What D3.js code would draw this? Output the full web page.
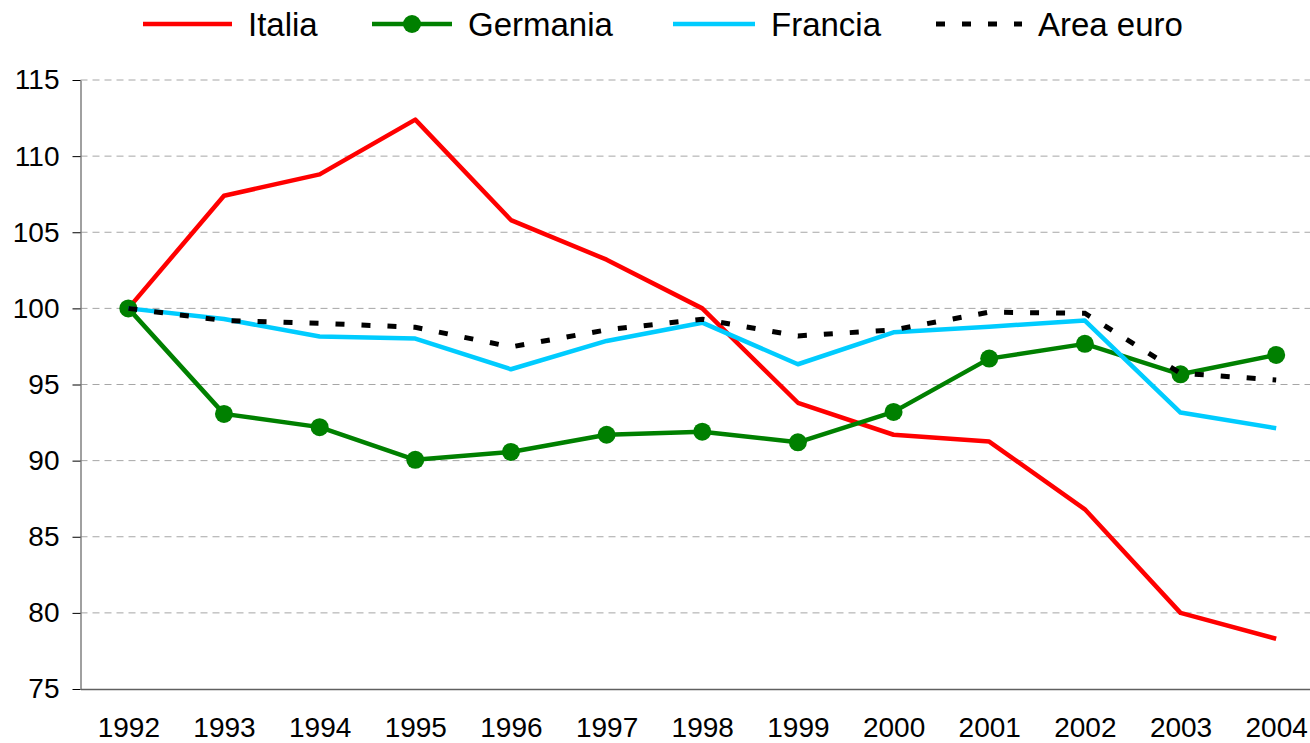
<!DOCTYPE html>
<html>
<head>
<meta charset="utf-8">
<script src="https://cdn.jsdelivr.net/npm/d3@7"></script>
<style>
  body { margin: 0; background: #fff; }
  svg { display: block; font-family: "Liberation Sans", Arial, sans-serif; }
</style>
</head>
<body>
<svg id="chart" width="1310" height="743"></svg>
<script>
const years = [1992, 1993, 1994, 1995, 1996, 1997, 1998, 1999, 2000, 2001, 2002, 2003, 2004];
const italia   = [100, 107.4, 108.8, 112.4, 105.8, 103.2, 100.0, 93.8, 91.7, 91.25, 86.8, 80.0, 78.3];
const germania = [100, 93.07, 92.2, 90.05, 90.57, 91.7, 91.9, 91.2, 93.2, 96.7, 97.67, 95.67, 96.94];
const francia  = [100, 99.3, 98.15, 98.02, 96.0, 97.86, 99.06, 96.33, 98.43, 98.8, 99.2, 93.16, 92.13];
const areaEuro = [100, 99.2, 99.02, 98.76, 97.47, 98.59, 99.29, 98.19, 98.59, 99.75, 99.68, 95.74, 95.3];
const yTicks = [75, 80, 85, 90, 95, 100, 105, 110, 115];
const seriesNames = ["Italia", "Germania", "Francia", "Area euro"];

const svg = d3.select("#chart");
const plotLeft = 80.5, plotTop = 80, plotBottom = 689, plotRight = 1324;

const x = d3.scalePoint().domain(years).range([plotLeft, plotRight]).padding(0.5);
const y = d3.scaleLinear().domain([75, 115]).range([plotBottom, plotTop]);

// gridlines
svg.append("g").selectAll("line").data(yTicks.filter(d => d > 75)).join("line")
  .attr("x1", plotLeft).attr("x2", 1310)
  .attr("y1", d => y(d)).attr("y2", d => y(d))
  .attr("stroke", "#a6a6a6").attr("stroke-width", 1)
  .attr("stroke-dasharray", "7,5");

// y axis
const yAxis = svg.append("g").attr("transform", `translate(${plotLeft},0)`)
  .call(d3.axisLeft(y).tickValues(yTicks).tickSize(8).tickPadding(13).tickSizeOuter(0));
yAxis.select(".domain").attr("stroke", "#808080").attr("stroke-width", 1.5);
yAxis.selectAll(".tick line").attr("stroke", "#000").attr("stroke-width", 1);
yAxis.selectAll(".tick text").attr("font-size", 28).attr("fill", "#000")
  .attr("font-family", "Liberation Sans, Arial, sans-serif");

// x axis
const xAxis = svg.append("g").attr("transform", `translate(0,${plotBottom})`)
  .call(d3.axisBottom(x).tickSize(0).tickPadding(28));
xAxis.select(".domain").attr("stroke", "#606060").attr("stroke-width", 1.5);
xAxis.selectAll(".tick text").attr("font-size", 28).attr("fill", "#000")
  .attr("font-family", "Liberation Sans, Arial, sans-serif");

const line = d3.line().x((d, i) => x(years[i])).y(d => y(d));

svg.append("path").datum(italia).attr("d", line)
  .attr("fill", "none").attr("stroke", "#ff0000").attr("stroke-width", 4.5).attr("stroke-linejoin", "round");

svg.append("path").datum(germania).attr("d", line)
  .attr("fill", "none").attr("stroke", "#008000").attr("stroke-width", 4.5).attr("stroke-linejoin", "round");
svg.append("g").selectAll("circle").data(germania).join("circle")
  .attr("cx", (d, i) => x(years[i])).attr("cy", d => y(d)).attr("r", 9).attr("fill", "#008000");

svg.append("path").datum(francia).attr("d", line)
  .attr("fill", "none").attr("stroke", "#00ccff").attr("stroke-width", 4.5).attr("stroke-linejoin", "round");

svg.append("path").datum(areaEuro).attr("d", line)
  .attr("fill", "none").attr("stroke", "#000").attr("stroke-width", 5)
  .attr("stroke-dasharray", "9,17");

// legend
const legend = svg.append("g");
const legendItems = [
  {name: seriesNames[0], x1: 143, x2: 232, tx: 248, color: "#ff0000", dash: null, marker: false, w: 4.5},
  {name: seriesNames[1], x1: 372, x2: 452, tx: 468, color: "#008000", dash: null, marker: true, w: 4.5},
  {name: seriesNames[2], x1: 673, x2: 755, tx: 771, color: "#00ccff", dash: null, marker: false, w: 4.5},
  {name: seriesNames[3], x1: 936, x2: 1022, tx: 1038, color: "#000", dash: "9,17", marker: false, w: 5}
];
const ly = 24;
legendItems.forEach(it => {
  legend.append("line").attr("x1", it.x1).attr("x2", it.x2).attr("y1", ly).attr("y2", ly)
    .attr("stroke", it.color).attr("stroke-width", it.w)
    .attr("stroke-dasharray", it.dash);
  if (it.marker) {
    legend.append("circle").attr("cx", (it.x1 + it.x2) / 2).attr("cy", ly).attr("r", 9).attr("fill", it.color);
  }
  legend.append("text").attr("x", it.tx).attr("y", ly + 12).attr("font-size", 33)
    .attr("fill", "#000").text(it.name);
});
</script>
</body>
</html>
